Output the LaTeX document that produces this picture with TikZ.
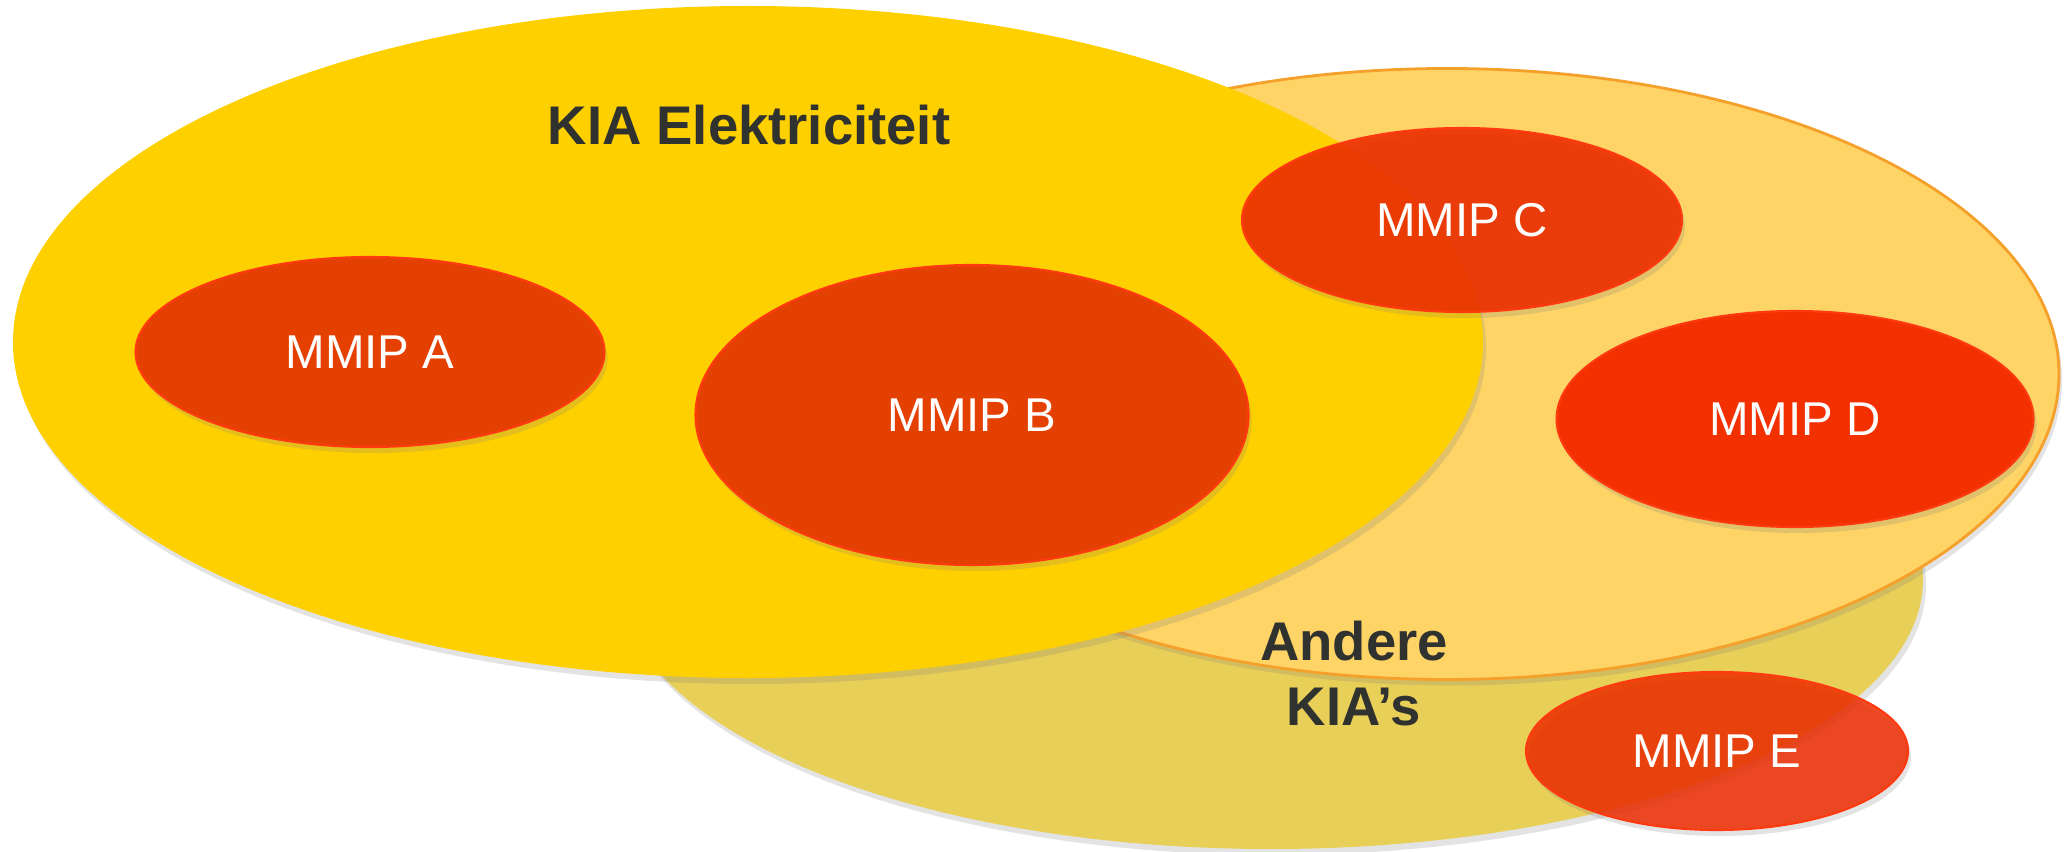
\documentclass[tikz,border=0pt]{standalone}
\usepackage{fontspec}
\setmainfont{Liberation Sans}
\usetikzlibrary{shapes.geometric, shadows, positioning}
\usepackage{xcolor}

\definecolor{kiayellow}{HTML}{FFD000}
\definecolor{kialight}{HTML}{FED466}
\definecolor{kialightrim}{HTML}{F5A02A}
\definecolor{kiakhaki}{HTML}{E8CF58}
\definecolor{mmipdark}{HTML}{E44002}
\definecolor{mmipbright}{HTML}{F23000}
\definecolor{mmipglass}{HTML}{EB2D00}
\definecolor{mmiprim}{HTML}{FF3A10}
\definecolor{labelgrey}{HTML}{303230}

\begin{document}
\begin{tikzpicture}[
  shade/.style={drop shadow={opacity=0.22, shadow xshift=0.03cm, shadow yshift=-0.06cm}},
  kia/.style={ellipse, inner sep=0pt, shade},
  mmip/.style={ellipse, inner sep=0pt, draw=mmiprim, line width=0.6pt, shade,
    text=white, font=\fontsize{13.5}{16}\selectfont},
  kialabel/.style={text=labelgrey, font=\fontsize{15.5}{18.5}\selectfont\bfseries, align=center}
]
\useasboundingbox (0,0) rectangle (20.65,-8.52);

\node (andere) [kia, fill=kiakhaki, minimum width=13.04cm, minimum height=5.40cm] at (12.71,-5.79) {};
\node (overig) [kia, fill=kialight, draw=kialightrim, line width=0.8pt,
  minimum width=12.24cm, minimum height=6.11cm] at (14.47,-3.74) {};
\node (elek) [kia, fill=kiayellow, minimum width=14.70cm, minimum height=6.72cm] at (7.48,-3.42) {};

\node (mmipa) [mmip, fill=mmipdark, minimum width=4.69cm, minimum height=1.90cm] at (3.70,-3.52) {MMIP A};
\node (mmipb) [mmip, fill=mmipdark, minimum width=5.53cm, minimum height=3.00cm] at (9.72,-4.15) {MMIP B};
\node (mmipc) [mmip, fill=mmipglass, fill opacity=0.9, text opacity=1,
  minimum width=4.40cm, minimum height=1.84cm] at (14.62,-2.20) {MMIP C};
\node (mmipd) [mmip, fill=mmipbright, minimum width=4.77cm, minimum height=2.16cm] at (17.95,-4.19) {MMIP D};
\node (mmipe) [mmip, fill=mmipglass, fill opacity=0.85, text opacity=1,
  minimum width=3.82cm, minimum height=1.58cm] at (17.17,-7.51) {MMIP E};

\node (elektekst) [kialabel] at (7.49,-1.25) {KIA Elektriciteit};
\node (anderetekst) [kialabel] at (13.54,-6.74) {Andere\\KIA’s};

\end{tikzpicture}
\end{document}
